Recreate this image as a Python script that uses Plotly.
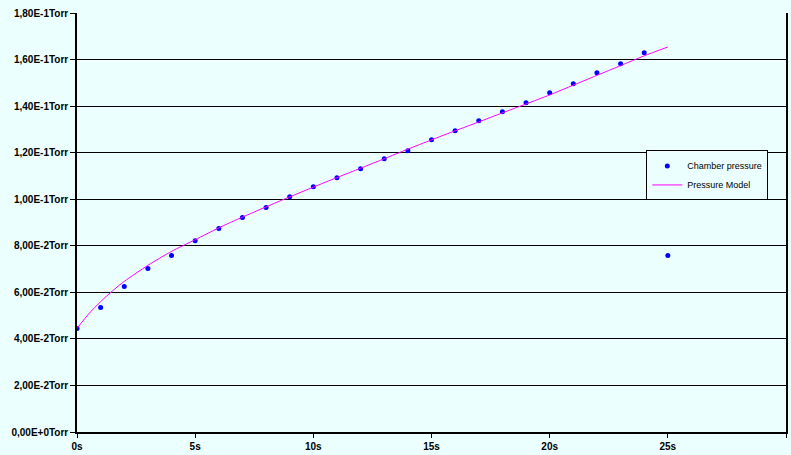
import plotly.graph_objects as go

# Measured chamber pressure (Torr) at one-second intervals
t_meas = [0, 1, 2, 3, 4, 5, 6, 7, 8, 9, 10, 11, 12, 13, 14, 15, 16, 17, 18, 19, 20, 21, 22, 23, 24, 25]
p_meas = [0.0445, 0.0535, 0.0625, 0.0702, 0.0758, 0.0822, 0.0874, 0.0921, 0.0964, 0.1011,
          0.1054, 0.1092, 0.1131, 0.1174, 0.1208, 0.1256, 0.1294, 0.1337, 0.1376, 0.1414,
          0.1457, 0.1496, 0.1543, 0.1582, 0.1629, 0.0758]

# Pressure model curve (Torr)
t_model = [0, 0.5, 1, 1.5, 2, 3, 4, 5, 6, 7, 8, 9, 10, 11, 12, 13, 14, 15, 16, 17, 18, 19, 20, 21, 22, 23, 24, 25]
p_model = [0.0445, 0.0508, 0.0560, 0.0606, 0.0647, 0.0716, 0.0776, 0.0826, 0.0877, 0.0923,
           0.0967, 0.1010, 0.1052, 0.1093, 0.1133, 0.1174, 0.1215, 0.1255, 0.1294, 0.1332,
           0.1371, 0.1409, 0.1448, 0.1490, 0.1532, 0.1574, 0.1616, 0.1654]

y_ticks = [0, 0.02, 0.04, 0.06, 0.08, 0.10, 0.12, 0.14, 0.16, 0.18]
y_labels = ["0,00E+0Torr", "2,00E-2Torr", "4,00E-2Torr", "6,00E-2Torr", "8,00E-2Torr",
            "1,00E-1Torr", "1,20E-1Torr", "1,40E-1Torr", "1,60E-1Torr", "1,80E-1Torr"]
x_ticks = [0, 5, 10, 15, 20, 25, 30]
x_labels = ["0s", "5s", "10s", "15s", "20s", "25s", "30s"]

bg = "#EBFFFF"

fig = go.Figure()
fig.add_trace(go.Scatter(x=t_meas, y=p_meas, mode="markers", name="Chamber pressure",
                         marker=dict(color="#0000FF", size=5)))
fig.add_trace(go.Scatter(x=t_model, y=p_model, mode="lines", name="Pressure Model",
                         line=dict(color="#FF00FF", width=1, shape="spline", smoothing=0.6)))

fig.update_layout(
    width=791, height=455,
    margin=dict(l=77, r=3, t=13, b=23),
    paper_bgcolor=bg, plot_bgcolor=bg,
    font=dict(family="Liberation Sans, Arial, sans-serif", color="black"),
    showlegend=True,
    legend=dict(x=0.803, y=0.672, xanchor="left", yanchor="top",
                bgcolor=bg, bordercolor="black", borderwidth=1,
                font=dict(size=9, color="black"), tracegroupgap=0,
                itemwidth=30),
    xaxis=dict(range=[0, 30], tickvals=x_ticks, ticktext=x_labels,
               showgrid=False, zeroline=False, showline=True, linecolor="black", linewidth=1.5,
               mirror=False, ticks="outside", ticklen=4, tickcolor="black",
               tickfont=dict(size=10, family="Liberation Sans, Arial", weight="bold")),
    yaxis=dict(range=[0, 0.18], tickvals=y_ticks, ticktext=y_labels,
               showgrid=True, gridcolor="black", gridwidth=1, zeroline=False,
               showline=True, linecolor="black", linewidth=1.5, mirror=True,
               ticks="outside", ticklen=5, tickcolor="black",
               tickfont=dict(size=10, family="Liberation Sans, Arial", weight="bold")),
)

fig.write_html("out.html")
